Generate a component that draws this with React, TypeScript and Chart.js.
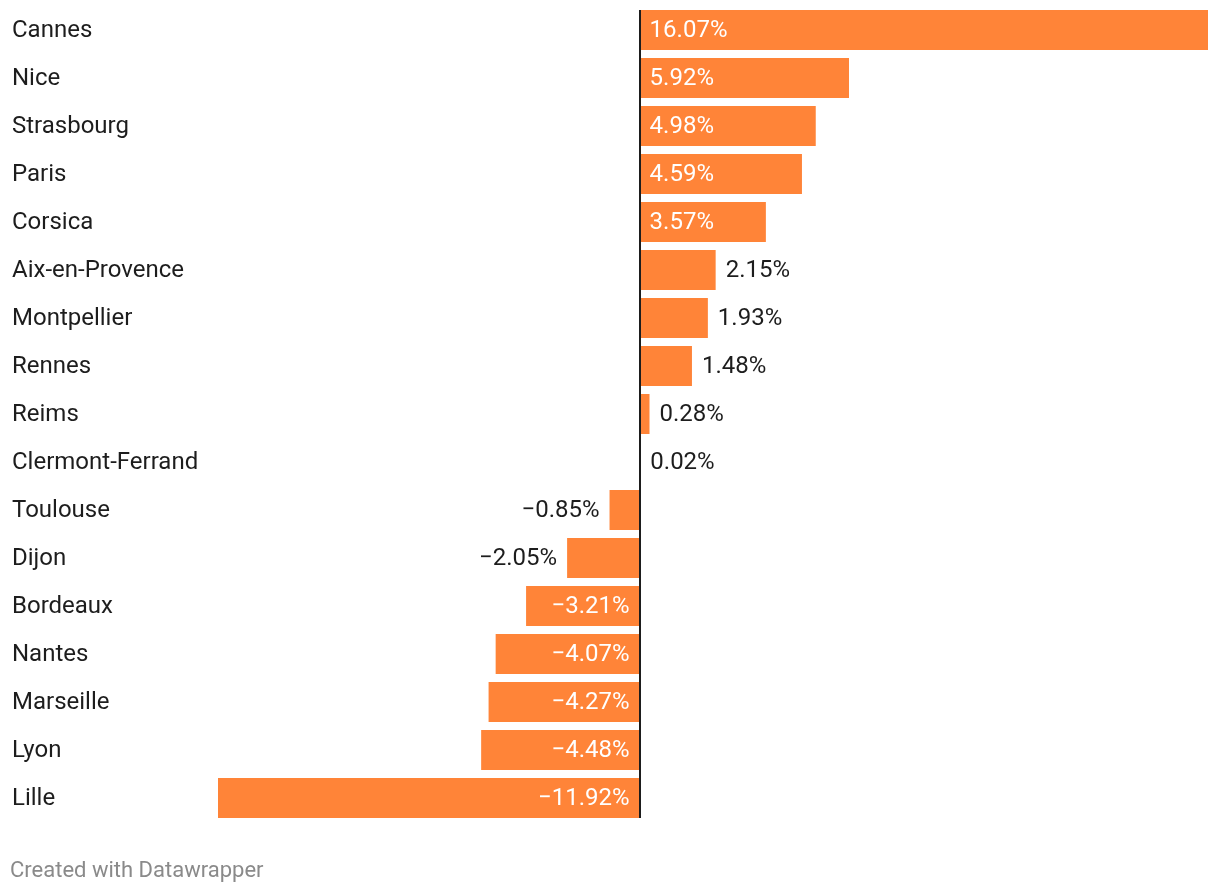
import React, { useEffect, useRef } from "react";
import { Chart, registerables } from "chart.js";

Chart.register(...registerables);

const cities = [
  "Cannes", "Nice", "Strasbourg", "Paris", "Corsica", "Aix-en-Provence", "Montpellier",
  "Rennes", "Reims", "Clermont-Ferrand", "Toulouse", "Dijon", "Bordeaux", "Nantes",
  "Marseille", "Lyon", "Lille",
];
const changes = [
  16.07, 5.92, 4.98, 4.59, 3.57, 2.15, 1.93, 1.48, 0.28, 0.02,
  -0.85, -2.05, -3.21, -4.07, -4.27, -4.48, -11.92,
];
const footer = "Created with Datawrapper";

const BAR = "#ff8438";
const FONT = "Roboto, 'Noto Sans', sans-serif";

function fmt(v: number) {
  const s = Math.abs(v).toFixed(2) + "%";
  return v < 0 ? "\u2212" + s : s;
}

export default function App() {
  const ref = useRef<HTMLCanvasElement | null>(null);
  useEffect(() => {
    document.body.style.margin = "0";
    const canvas = ref.current!;
    const overlay = {
      id: "overlay",
      afterDatasetsDraw(chart: any) {
        const ctx = chart.ctx;
        const xs = chart.scales.x;
        const meta = chart.getDatasetMeta(0);
        ctx.save();
        ctx.font = `24px ${FONT}`;
        ctx.textBaseline = "middle";
        meta.data.forEach((bar: any, i: number) => {
          const v = changes[i];
          const txt = fmt(v);
          const w = ctx.measureText(txt).width;
          const x0 = xs.getPixelForValue(0);
          const x1 = xs.getPixelForValue(v);
          const bw = Math.abs(x1 - x0);
          const inside = bw >= w + 20;
          const y = bar.y + 1;
          ctx.textAlign = "left";
          ctx.fillStyle = "#1d1d1d";
          ctx.fillText(cities[i], 12, y);
          if (v >= 0) {
            ctx.textAlign = "left";
            if (inside) { ctx.fillStyle = "#ffffff"; ctx.fillText(txt, x0 + 10, y); }
            else { ctx.fillStyle = "#1d1d1d"; ctx.fillText(txt, x1 + 10, y); }
          } else {
            ctx.textAlign = "right";
            if (inside) { ctx.fillStyle = "#ffffff"; ctx.fillText(txt, x0 - 10, y); }
            else { ctx.fillStyle = "#1d1d1d"; ctx.fillText(txt, x1 - 10, y); }
          }
        });
        const zx = Math.round(xs.getPixelForValue(0));
        ctx.strokeStyle = "#1d1d1d";
        ctx.lineWidth = 2;
        ctx.beginPath();
        ctx.moveTo(zx, chart.chartArea.top + 4);
        ctx.lineTo(zx, chart.chartArea.bottom - 4);
        ctx.stroke();
        ctx.font = `22px ${FONT}`;
        ctx.fillStyle = "#8a8a8a";
        ctx.textAlign = "left";
        ctx.fillText(footer, 10, 871);
        ctx.restore();
      },
    };
    const chart = new Chart(canvas, {
      type: "bar",
      data: {
        labels: cities,
        datasets: [
          {
            data: changes,
            backgroundColor: BAR,
            borderWidth: 0,
            barPercentage: 40 / 48,
            categoryPercentage: 1,
          },
        ],
      },
      options: {
        indexAxis: "y",
        animation: false,
        responsive: false,
        devicePixelRatio: 1,
        layout: { padding: { left: 218, top: 6, right: 12, bottom: 72 } },
        plugins: { legend: { display: false }, tooltip: { enabled: false } },
        scales: {
          x: {
            min: -11.92,
            max: 16.07,
            display: false,
            grid: { display: false },
          },
          y: {
            display: false,
            grid: { display: false },
          },
        },
      },
      plugins: [overlay],
    });
    return () => chart.destroy();
  }, []);
  return (
    <div style={{ width: 1220, height: 894 }}>
      <canvas ref={ref} width={1220} height={894} style={{ display: "block" }} />
    </div>
  );
}
